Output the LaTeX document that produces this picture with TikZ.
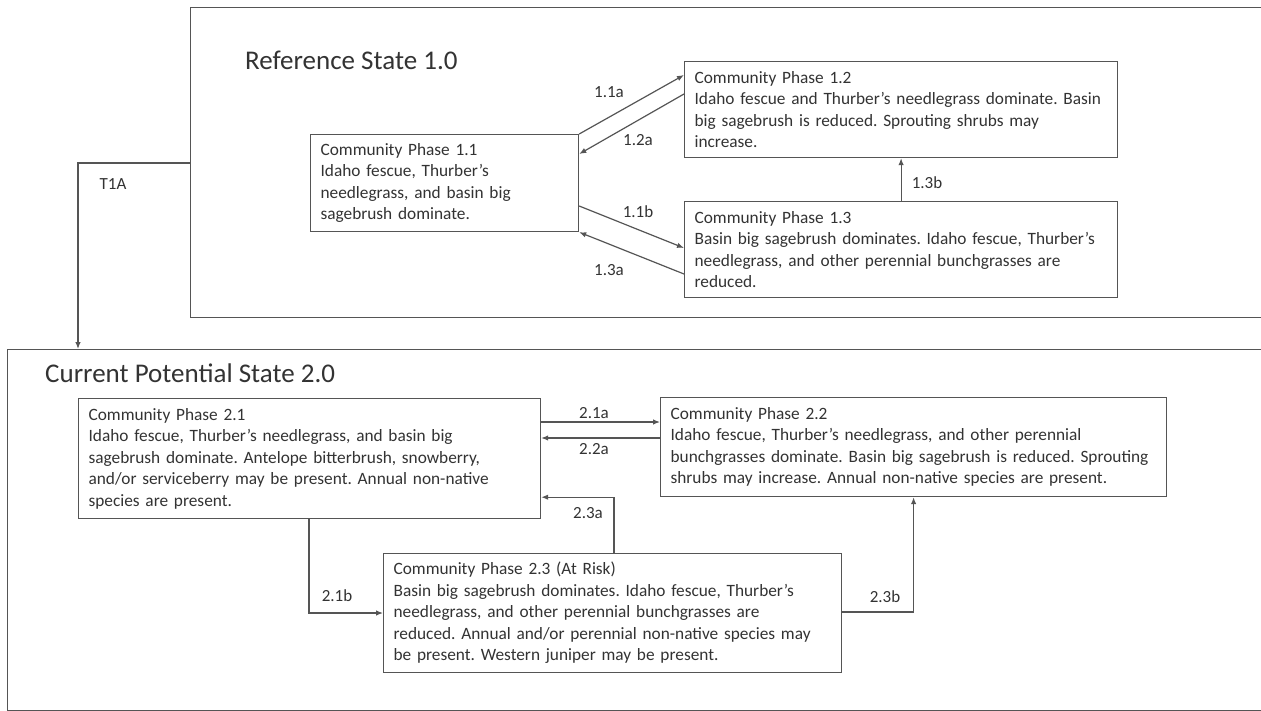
\documentclass[tikz,border=0pt]{standalone}
\usepackage{fontspec}
\setmainfont{Carlito}
\usetikzlibrary{calc,arrows.meta}
\definecolor{txt}{HTML}{333333}
\definecolor{ln}{HTML}{555555}
\frenchspacing
\tikzset{
  phase/.style={draw=ln, line width=1.2pt, anchor=north west, inner xsep=10pt, inner ysep=0pt,
    align=left, font=\fontsize{17.3}{21.5}\selectfont, text=txt},
  statebox/.style={draw=ln, line width=1.2pt, anchor=north west, inner sep=0pt},
  lbl/.style={font=\fontsize{17}{20}\selectfont, text=txt, inner sep=0pt},
  statetitle/.style={font=\fontsize{27}{31}\selectfont, text=txt, anchor=west, inner sep=0pt},
  conn/.style={draw=ln, line width=1.2pt, -{Latex[length=7pt,width=5.5pt]}},
}
\begin{document}
\begin{tikzpicture}[x=1pt,y=-1pt]
\useasboundingbox (0,0) rectangle (1261,711);
\fill[white] (0,0) rectangle (1261,711);

% state boxes
\node[statebox, minimum width=1090pt, minimum height=310pt] (s1) at (190,7) {};
\node[statebox, minimum width=1270pt, minimum height=361pt] (s2) at (7,349) {};
\node[statetitle] (t1) at (245,60) {Reference State 1.0};
\node[statetitle] (t2) at (45,373) {Current Potential State 2.0};

% phases state 1
\node[phase, minimum width=268pt, minimum height=97pt, text width=248pt] (b11) at (310,134)
 {Community Phase 1.1\\Idaho fescue, Thurber’s\\needlegrass, and basin big\\sagebrush dominate.};
\node[phase, minimum width=433pt, minimum height=96pt, text width=413pt] (b12) at (684,61)
 {Community Phase 1.2\\Idaho fescue and Thurber’s needlegrass dominate. Basin\\big sagebrush is reduced. Sprouting shrubs may\\increase.};
\node[phase, minimum width=433pt, minimum height=96pt, text width=413pt] (b13) at (684,201)
 {Community Phase 1.3\\Basin big sagebrush dominates. Idaho fescue, Thurber’s\\needlegrass, and other perennial bunchgrasses are\\reduced.};

% phases state 2
\node[phase, minimum width=462pt, minimum height=120pt, text width=442pt] (b21) at (78,398)
 {Community Phase 2.1\\Idaho fescue, Thurber’s needlegrass, and basin big\\sagebrush dominate. Antelope bitterbrush, snowberry,\\and/or serviceberry may be present. Annual non-native\\species are present.};
\node[phase, minimum width=506pt, minimum height=99pt, text width=486pt] (b22) at (660,397)
 {Community Phase 2.2\\Idaho fescue, Thurber’s needlegrass, and other perennial\\bunchgrasses dominate. Basin big sagebrush is reduced. Sprouting\\shrubs may increase. Annual non-native species are present.};
\node[phase, minimum width=458pt, minimum height=119pt, text width=438pt] (b23) at (383,553)
 {Community Phase 2.3 (At Risk)\\Basin big sagebrush dominates. Idaho fescue, Thurber’s\\needlegrass, and other perennial bunchgrasses are\\reduced. Annual and/or perennial non-native species may\\be present. Western juniper may be present.};

% connectors state 1
\draw[conn] (b11.north east) -- ($(b12.north west)+(0,14)$);
\draw[conn] ($(b12.north west)+(0,33)$) -- ($(b11.north east)+(0,20)$);
\draw[conn] ($(b11.north east)+(0,72)$) -- ($(b13.north west)+(0,47)$);
\draw[conn] ($(b13.north west)+(0,73)$) -- (b11.south east);
\draw[conn] (b13.north) -- (b12.south);

% transition
\coordinate (tstart) at ($(s1.north west)+(0,156)$);
\draw[conn] (tstart) -| (b21.west |- s2.north);

% connectors state 2
\draw[conn] ($(b21.north east)+(0,24)$) -- ($(b22.north west)+(0,25)$);
\draw[conn] ($(b22.north west)+(0,41)$) -- ($(b21.north east)+(0,40)$);
\draw[conn] ($(b23.north west)+(231,0)$) |- ($(b21.south east)+(0,-22)$);
\draw[conn] ($(b21.south west)+(231,0)$) |- ($(b23.north west)+(0,60)$);
\draw[conn] ($(b23.north east)+(0,59)$) -| (b22.south);

% labels
\node[lbl] (l11a) at (609,92) {1.1a};
\node[lbl] (l12a) at (638,140) {1.2a};
\node[lbl] (l11b) at (638,212) {1.1b};
\node[lbl] (l13a) at (609,270) {1.3a};
\node[lbl] (l13b) at (927,183) {1.3b};
\node[lbl] (lt1a) at (113,184) {T1A};
\node[lbl] (l21a) at (594,413) {2.1a};
\node[lbl] (l22a) at (594,449) {2.2a};
\node[lbl] (l23a) at (588,513) {2.3a};
\node[lbl] (l21b) at (337,596) {2.1b};
\node[lbl] (l23b) at (885,597) {2.3b};
\end{tikzpicture}
\end{document}
